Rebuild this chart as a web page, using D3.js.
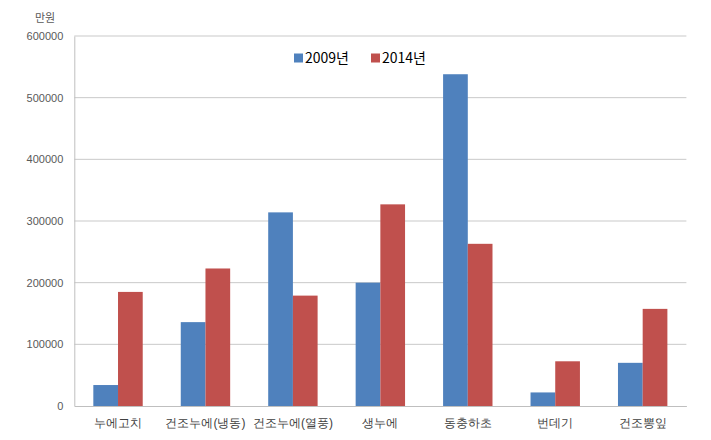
<!DOCTYPE html>
<html>
<head>
<meta charset="utf-8">
<script src="https://cdn.jsdelivr.net/npm/d3@7"></script>
<style>
  html, body { margin: 0; padding: 0; background: #fff; }
  svg { display: block; font-family: "Noto Sans CJK KR", "Noto Sans", sans-serif; }
</style>
</head>
<body>
<svg id="chart" width="711" height="440"></svg>
<script>
const categories = ["누에고치", "건조누에(냉동)", "건조누에(열풍)", "생누에", "동충하초", "번데기", "건조뽕잎"];
const seriesNames = ["2009년", "2014년"];
const values2009 = [34000, 136000, 314000, 200000, 538000, 22000, 70000];
const values2014 = [185000, 223000, 179000, 327000, 263000, 72500, 157500];
const yTicks = [0, 100000, 200000, 300000, 400000, 500000, 600000];
const unitLabel = "만원";

const colors = ["#4F81BD", "#C0504D"];
const svg = d3.select("#chart");
const margin = { left: 74.3, right: 711 - 686.4, top: 36, bottom: 440 - 406 };
const W = 711, H = 440;

const x = d3.scaleBand().domain(categories).range([margin.left, W - margin.right]).paddingInner(0).paddingOuter(0);
const groupW = x.bandwidth() * 0.565;
const xs = d3.scaleBand().domain(seriesNames).range([0, groupW]).padding(0);
const y = d3.scaleLinear().domain([0, 600000]).range([H - margin.bottom, margin.top]);

// gridlines
svg.append("g").selectAll("line").data(yTicks.filter(d => d > 0)).join("line")
  .attr("x1", margin.left).attr("x2", W - margin.right)
  .attr("y1", d => y(d)).attr("y2", d => y(d))
  .attr("stroke", "#c9c9c9").attr("stroke-width", 1);

// y axis
const yAxis = d3.axisLeft(y).tickValues(yTicks).tickSize(0).tickPadding(11).tickFormat(d3.format("d"));
const gy = svg.append("g").attr("transform", `translate(${margin.left},0)`).call(yAxis);
gy.select(".domain").attr("stroke", "#bfbfbf");
gy.selectAll("text").attr("font-size", 11).attr("fill", "#595959");

// bars
const data = categories.map((c, i) => ({ c, vals: [values2009[i], values2014[i]] }));
const groups = svg.append("g").selectAll("g").data(data).join("g")
  .attr("transform", d => `translate(${x(d.c) + (x.bandwidth() - groupW) / 2},0)`);
groups.selectAll("rect").data(d => d.vals.map((v, j) => ({ v, s: seriesNames[j], j }))).join("rect")
  .attr("x", d => xs(d.s)).attr("width", xs.bandwidth())
  .attr("y", d => y(d.v)).attr("height", d => y(0) - y(d.v))
  .attr("fill", d => colors[d.j]);

// x axis
const xAxis = d3.axisBottom(x).tickSize(0).tickPadding(12);
const gx = svg.append("g").attr("transform", `translate(0,${y(0)})`).call(xAxis);
gx.select(".domain").attr("stroke", "#bfbfbf");
gx.selectAll("text").attr("font-size", 12).attr("fill", "#404040");

// unit label
svg.append("text").attr("x", 45).attr("y", 22).attr("text-anchor", "middle")
  .attr("font-size", 11).attr("fill", "#595959").text(unitLabel);

// legend
const legendX = [294, 371];
const lg = svg.append("g").selectAll("g").data(seriesNames).join("g")
  .attr("transform", (d, i) => `translate(${legendX[i]},58)`);
lg.append("rect").attr("x", 0).attr("y", -4.5).attr("width", 9).attr("height", 9)
  .attr("fill", (d, i) => colors[i]);
lg.append("text").attr("x", 11).attr("y", 0).attr("dy", "0.35em")
  .attr("font-size", 14).attr("fill", "#000").text(d => d);
</script>
</body>
</html>
